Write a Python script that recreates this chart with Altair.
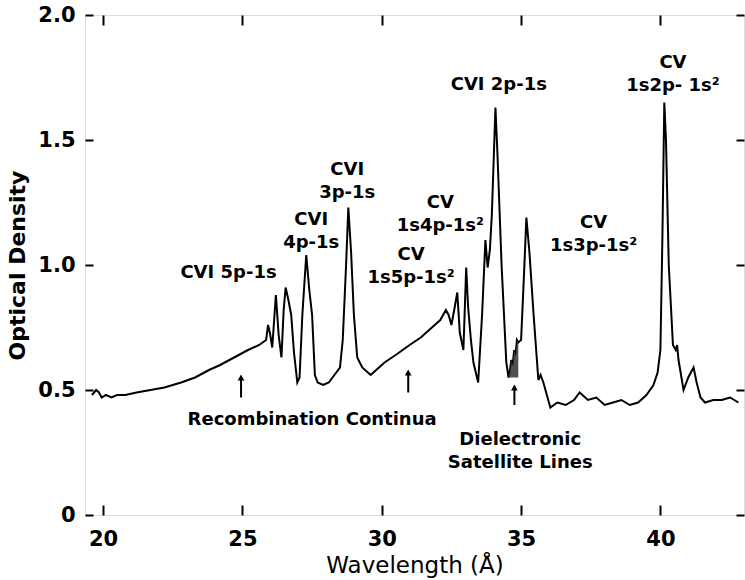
import altair as alt
import pandas as pd

# ---- spectrum (wavelength in Angstrom, optical density)
WAVELENGTH = [19.60, 19.75, 19.85, 19.95, 20.1, 20.3, 20.5, 20.8, 21.2, 21.7, 22.2, 22.8, 23.3, 23.8,
              24.2, 24.7, 25.2, 25.6, 25.85, 25.92, 26.0, 26.07, 26.15, 26.2, 26.3, 26.4, 26.48, 26.55,
              26.65, 26.75, 26.85, 26.97, 27.05, 27.15, 27.29, 27.4, 27.5, 27.6, 27.7, 27.9, 28.1, 28.3,
              28.5, 28.6, 28.72, 28.8, 28.9, 29.0, 29.12, 29.3, 29.6, 29.8, 30.1, 30.5, 31.0, 31.4, 31.8,
              32.1, 32.3, 32.4, 32.5, 32.6, 32.71, 32.8, 32.93, 33.03, 33.1, 33.2, 33.29, 33.46, 33.6,
              33.72, 33.8, 33.88, 33.95, 34.08, 34.15, 34.3, 34.47, 34.55, 34.6, 34.65, 34.7, 34.75,
              34.8, 34.85, 34.9, 35.0, 35.1, 35.19, 35.3, 35.45, 35.62, 35.7, 35.8, 36.05, 36.3, 36.6,
              36.9, 37.1, 37.4, 37.7, 38.0, 38.3, 38.6, 38.9, 39.2, 39.5, 39.75, 39.9, 40.0, 40.07,
              40.14, 40.2, 40.3, 40.45, 40.55, 40.6, 40.65, 40.83, 41.0, 41.19, 41.3, 41.44, 41.6,
              41.9, 42.2, 42.5, 42.8]
DENSITY = [0.48, 0.50, 0.49, 0.47, 0.48, 0.47, 0.48, 0.48, 0.49, 0.50, 0.51, 0.53, 0.55, 0.58,
           0.60, 0.63, 0.66, 0.68, 0.70, 0.76, 0.72, 0.67, 0.80, 0.88, 0.72, 0.63, 0.82, 0.91,
           0.86, 0.80, 0.65, 0.53, 0.55, 0.80, 1.04, 0.90, 0.80, 0.56, 0.53, 0.52, 0.53, 0.56,
           0.59, 0.70, 1.00, 1.23, 1.05, 0.80, 0.63, 0.59, 0.56, 0.58, 0.61, 0.64, 0.68, 0.71, 0.75,
           0.78, 0.82, 0.80, 0.76, 0.82, 0.89, 0.73, 0.66, 0.99, 0.83, 0.70, 0.61, 0.53, 0.80,
           1.10, 0.99, 1.06, 1.20, 1.63, 1.45, 1.00, 0.61, 0.55, 0.58, 0.62, 0.60, 0.66,
           0.64, 0.70, 0.69, 0.70, 0.95, 1.19, 1.05, 0.80, 0.54, 0.56, 0.53, 0.43, 0.45, 0.44,
           0.46, 0.49, 0.46, 0.47, 0.44, 0.45, 0.46, 0.44, 0.45, 0.48, 0.52, 0.57, 0.66, 1.10,
           1.65, 1.50, 1.00, 0.68, 0.66, 0.68, 0.62, 0.50, 0.55, 0.59, 0.53, 0.47, 0.45,
           0.46, 0.46, 0.47, 0.45]

# hatched dielectronic satellite region
HATCH_RANGE = [34.5, 34.95]
HATCH_BASE = 0.55

# annotations
ANNOT_TEXT = ["CVI 5p-1s", "CVI\n4p-1s", "CVI\n3p-1s", "CV\n1s5p-1s²", "CV\n1s4p-1s²",
              "CVI 2p-1s", "CV\n1s3p-1s²", "CV\n1s2p- 1s²", "Recombination Continua",
              "Dielectronic\nSatellite Lines"]
ANNOT_X = [24.5, 27.47, 28.76, 31.05, 32.1, 34.2, 37.6, 40.45, 27.5, 34.97]
ANNOT_Y = [0.95, 1.16, 1.36, 1.02, 1.23, 1.70, 1.15, 1.79, 0.36, 0.28]

# arrows
ARROW_X = [24.95, 30.95, 34.76]
ARROW_BOTTOM = [0.47, 0.49, 0.44]
ARROW_TOP = [0.55, 0.57, 0.51]

X_TICKS = [20, 25, 30, 35, 40]
Y_TICKS = [0, 0.5, 1.0, 1.5, 2.0]
X_DOMAIN = [19.35, 43.0]
Y_DOMAIN = [0, 2.0]

FONT = "DejaVu Sans"

spec = pd.DataFrame({"wl": WAVELENGTH, "od": DENSITY})
annot = pd.DataFrame({"t": ANNOT_TEXT, "x": ANNOT_X, "y": ANNOT_Y})
arrows = pd.DataFrame({"x": ARROW_X, "y0": ARROW_BOTTOM, "y1": ARROW_TOP})

xs = alt.Scale(domain=X_DOMAIN, nice=False, zero=False)
ys = alt.Scale(domain=Y_DOMAIN, nice=False, zero=False)

label_expr = "datum.value == 0 ? '0' : format(datum.value, '.1f')"

x_bottom = alt.X("wl:Q", scale=xs, title="Wavelength (Å)",
                 axis=alt.Axis(values=X_TICKS, orient="bottom", offset=-10, tickSize=10,
                               tickWidth=2, tickColor="black", domain=False, grid=False,
                               labelPadding=13, labelFontSize=21, labelFont=FONT,
                               labelFontWeight="bold", labelColor="black", titleFont=FONT,
                               titleFontSize=23, titleFontWeight="normal", titleColor="black",
                               titlePadding=5))
y_left = alt.Y("od:Q", scale=ys, title="Optical Density",
               axis=alt.Axis(values=Y_TICKS, orient="left", offset=-8, tickSize=8,
                             tickWidth=2, tickColor="black", domain=False, grid=False,
                             labelPadding=10, labelFontSize=21, labelFont=FONT,
                             labelFontWeight="bold", labelColor="black", labelExpr=label_expr,
                             titleFont=FONT, titleFontSize=22, titleFontWeight="bold",
                             titleColor="black", titlePadding=8))

line = alt.Chart(spec).mark_line(color="black", strokeWidth=2).encode(x=x_bottom, y=y_left)

frame = alt.Chart(spec).mark_line(opacity=0).encode(
    x=alt.X("wl:Q", scale=xs, title=None,
            axis=alt.Axis(values=X_TICKS, orient="top", offset=-10, tickSize=10, tickWidth=2,
                          tickColor="black", domain=False, grid=False, labels=False)),
    y=alt.Y("od:Q", scale=ys, title=None,
            axis=alt.Axis(values=Y_TICKS, orient="right", offset=-8, tickSize=8, tickWidth=2,
                          tickColor="black", domain=False, grid=False, labels=False)),
)

hatch = alt.Chart(spec).transform_filter(
    (alt.datum.wl >= HATCH_RANGE[0]) & (alt.datum.wl <= HATCH_RANGE[1])
).mark_area(color="#333333", opacity=0.85).encode(
    x=alt.X("wl:Q", scale=xs, axis=None), y=alt.Y("od:Q", scale=ys, axis=None),
    y2=alt.datum(HATCH_BASE))

text = alt.Chart(annot).mark_text(font=FONT, fontSize=18, fontWeight="bold", color="black",
                                  align="center", baseline="alphabetic", lineBreak="\n",
                                  lineHeight=23).encode(
    x=alt.X("x:Q", scale=xs, axis=None), y=alt.Y("y:Q", scale=ys, axis=None), text="t:N")

arrow_shaft = alt.Chart(arrows).mark_rule(color="black", strokeWidth=2).encode(
    x=alt.X("x:Q", scale=xs, axis=None), y=alt.Y("y0:Q", scale=ys, axis=None), y2="y1:Q")
arrow_head = alt.Chart(arrows).mark_point(shape="triangle-up", filled=True, color="black",
                                          size=45, opacity=1).encode(
    x=alt.X("x:Q", scale=xs, axis=None), y=alt.Y("y1:Q", scale=ys, axis=None))

chart = alt.layer(line, frame, hatch, text, arrow_shaft, arrow_head).resolve_axis(
    x="independent", y="independent"
).properties(
    width=659, height=500, autosize="none",
    padding={"left": 85, "top": 15, "right": 1, "bottom": 65},
).configure_view(stroke="black", strokeWidth=2).configure(background="white")

chart.save("out.html", embed_options={"renderer": "svg", "actions": False})
